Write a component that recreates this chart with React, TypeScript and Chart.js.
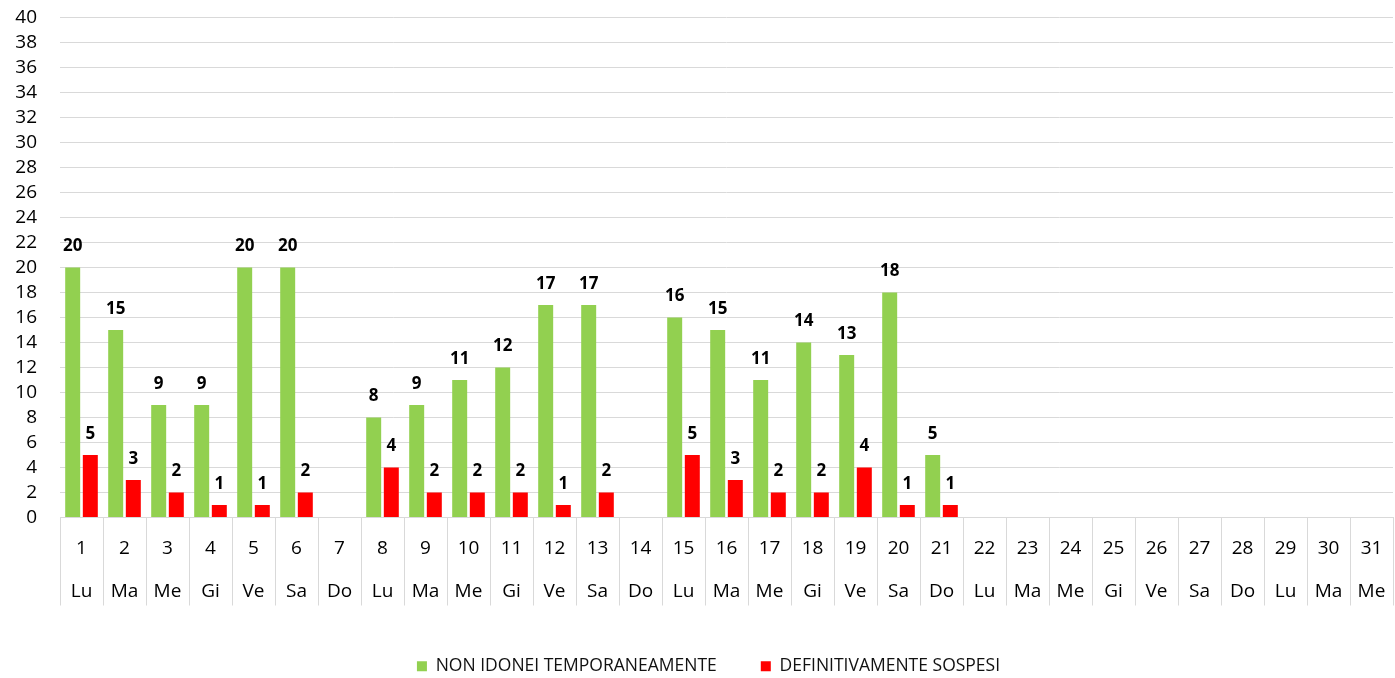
import React, { useEffect, useRef } from "react";
import { Chart, registerables } from "chart.js";

Chart.register(...registerables);

const days = ["1","2","3","4","5","6","7","8","9","10","11","12","13","14","15","16","17","18","19","20","21","22","23","24","25","26","27","28","29","30","31"];
const weekdays = ["Lu","Ma","Me","Gi","Ve","Sa","Do","Lu","Ma","Me","Gi","Ve","Sa","Do","Lu","Ma","Me","Gi","Ve","Sa","Do","Lu","Ma","Me","Gi","Ve","Sa","Do","Lu","Ma","Me"];
const nonIdonei: (number | null)[] = [20,15,9,9,20,20,null,8,9,11,12,17,17,null,16,15,11,14,13,18,5,null,null,null,null,null,null,null,null,null,null];
const sospesi: (number | null)[] = [5,3,2,1,1,2,null,4,2,2,2,1,2,null,5,3,2,2,4,1,1,null,null,null,null,null,null,null,null,null,null];
const yTicksMax = 40;
const yStep = 2;

const FONT = "'Open Sans', 'Noto Sans', sans-serif";

const valueLabels = {
  id: "valueLabels",
  afterDatasetsDraw(chart: any) {
    const ctx = chart.ctx;
    ctx.save();
    ctx.font = `bold 17px ${FONT}`;
    ctx.fillStyle = "#000";
    ctx.textAlign = "center";
    ctx.textBaseline = "alphabetic";
    chart.data.datasets.forEach((ds: any, di: number) => {
      const meta = chart.getDatasetMeta(di);
      meta.data.forEach((bar: any, i: number) => {
        const v = ds.data[i];
        if (v === null || v === undefined) return;
        ctx.fillText(String(v), bar.x, bar.y - 16);
      });
    });
    ctx.restore();
  },
};

const legendShift = {
  id: "legendShift",
  afterLayout(chart: any) {
    const lg = chart.legend;
    if (lg) {
      lg.left += 12;
      lg.right += 12;
    }
  },
};

export default function App() {
  const ref = useRef<HTMLCanvasElement>(null);
  const infoRef = useRef<HTMLDivElement>(null);
  useEffect(() => {
    if (!ref.current) return;
    const chart = new Chart(ref.current, {
      type: "bar",
      data: {
        labels: days.map((d, i) => [d, weekdays[i]]),
        datasets: [
          {
            label: "NON IDONEI TEMPORANEAMENTE",
            data: nonIdonei,
            backgroundColor: "#92D050",
            borderWidth: 0,
            categoryPercentage: 0.82,
            barPercentage: 0.85,
          },
          {
            label: "DEFINITIVAMENTE SOSPESI",
            data: sospesi,
            backgroundColor: "#FF0000",
            borderWidth: 0,
            categoryPercentage: 0.82,
            barPercentage: 0.85,
          },
        ],
      },
      options: {
        responsive: false,
        animation: false,
        devicePixelRatio: 1,
        layout: { padding: { top: 0, right: 2, left: 0, bottom: 0 } },
        plugins: {
          legend: {
            position: "bottom",
            labels: {
              boxWidth: 10,
              boxHeight: 10,
              padding: 44,
              color: "#111",
              font: { family: FONT, size: 17.5 },
            },
          },
          tooltip: { enabled: false },
        },
        scales: {
          x: {
            afterFit: (s: any) => { s.height = 96; },
            grid: {
              drawOnChartArea: false,
              drawTicks: true,
              tickLength: 88,
              color: "#d9d9d9",
              offset: true,
            },
            border: { display: true, color: "#d9d9d9" },
            ticks: {
              autoSkip: false,
              maxRotation: 0,
              padding: -78.5,
              color: "#000",
              font: { family: FONT, size: 19, lineHeight: "43px" },
            },
          },
          y: {
            min: 0,
            max: yTicksMax,
            afterFit: (s: any) => { s.width = 60; },
            grid: { color: "#d9d9d9", drawTicks: false },
            border: { display: false },
            ticks: {
              stepSize: yStep,
              autoSkip: false,
              padding: 23,
              color: "#000",
              font: { family: FONT, size: 19 },
            },
          },
        },
      },
      plugins: [valueLabels, legendShift],
    });
    return () => chart.destroy();
  }, []);
  return (
    <div style={{ position: "absolute", left: 0, top: 0, width: 1395, height: 678, overflow: "hidden", background: "#fff" }}>
      <canvas ref={ref} width={1395} height={702} style={{ display: "block", marginTop: -17 }} />
    </div>
  );
}
